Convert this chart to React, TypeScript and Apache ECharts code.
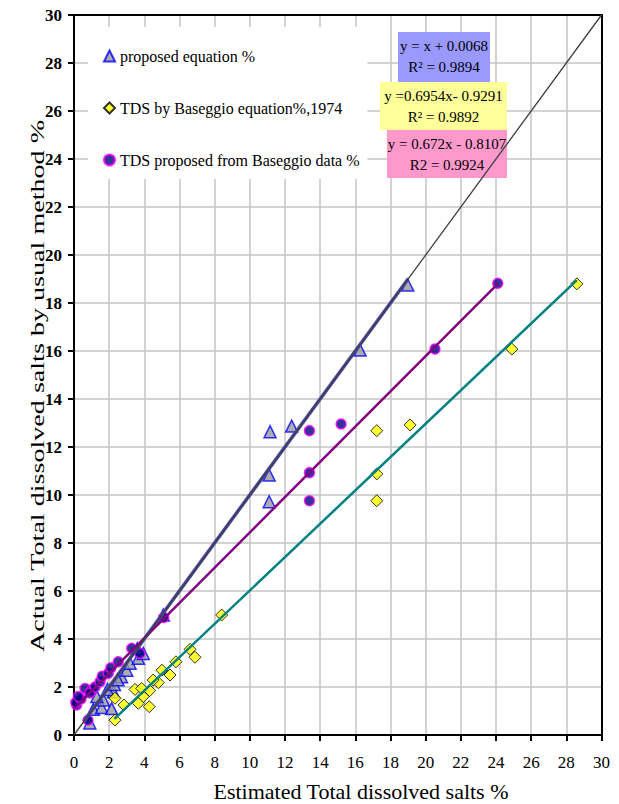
import React, { useEffect, useRef } from "react";
import * as echarts from "echarts";

const FONT = "Liberation Serif";

// tick labels / axis
const axisMin = 0;
const axisMax = 30;
const axisStep = 2;

// series names
const seriesNames = [
  "proposed equation %",
  "TDS by Baseggio equation%,1974",
  "TDS proposed from Baseggio data %",
];

// proposed equation (triangles)
const proposedX = [0.9, 1.1, 1.57, 2.14, 1.67, 1.3, 2.24, 1.9, 2.3, 2.7, 2.5, 3.0, 3.19, 3.66, 3.94, 3.6, 5.08, 11.1, 11.1, 11.15, 12.38, 16.27, 18.98];
const proposedY = [0.5, 1.07, 1.15, 1.1, 1.46, 1.6, 1.8, 1.9, 2.1, 2.43, 2.3, 2.7, 2.99, 3.2, 3.4, 3.6, 5.0, 9.72, 10.83, 12.64, 12.87, 16.04, 18.75];

// TDS by Baseggio equation 1974 (diamonds)
const baseggioX = [2.33, 4.28, 2.84, 3.66, 2.33, 3.94, 4.3, 3.47, 3.85, 4.8, 4.5, 5.46, 5.0, 5.8, 6.88, 6.6, 8.4, 17.22, 17.22, 17.22, 19.11, 24.9, 28.6];
const baseggioY = [0.62, 1.18, 1.25, 1.32, 1.53, 1.6, 1.85, 1.9, 1.94, 2.18, 2.29, 2.5, 2.7, 3.05, 3.24, 3.57, 5.0, 9.76, 10.88, 12.68, 12.92, 16.08, 18.8];

// TDS proposed from Baseggio data (circles)
const fromDataX = [0.8, 0.15, 0.1, 0.4, 0.25, 0.63, 1.0, 0.9, 1.2, 1.48, 1.6, 1.95, 2.1, 2.52, 3.28, 3.75, 5.1, 13.39, 13.39, 13.39, 15.19, 20.53, 24.1];
const fromDataY = [0.62, 1.25, 1.35, 1.5, 1.6, 1.94, 1.87, 1.75, 2.0, 2.22, 2.45, 2.57, 2.8, 3.05, 3.61, 3.4, 4.9, 9.76, 10.93, 12.68, 12.96, 16.08, 18.82];

// trend lines (end points)
const diagonalX = [0, 30];
const diagonalY = [0, 30];
const proposedTrendX = [0.55, 19.0];
const proposedTrendY = [0.56, 19.0];
const fromDataTrendX = [0, 24.1];
const fromDataTrendY = [1.1, 18.8];
const baseggioTrendX = [2.3, 28.6];
const baseggioTrendY = [0.67, 18.95];

// equation boxes
const equationLines = [
  ["y = x + 0.0068", "R\u00B2 = 0.9894"],
  ["y =0.6954x- 0.9291", "R\u00B2 = 0.9892"],
  ["y = 0.672x - 0.8107", "R2 = 0.9924"],
];
const equationColors = ["#9999ff", "#ffff99", "#ff99cc"];

const zip = (xs: number[], ys: number[]) => xs.map((x, i) => [x, ys[i]]);

export default function App() {
  const ref = useRef<HTMLDivElement>(null);

  useEffect(() => {
    document.body.style.margin = "0";
    const chart = echarts.init(ref.current!, null, { renderer: "svg" });

    const boxes = [
      { x: 398, y: 32, w: 92, h: 50 },
      { x: 380, y: 82, w: 127, h: 48 },
      { x: 387, y: 130, w: 120, h: 48 },
    ];
    const graphics: any[] = [];
    boxes.forEach((b, i) => {
      graphics.push({
        type: "rect",
        z: 1,
        shape: { x: b.x, y: b.y, width: b.w, height: b.h },
        style: { fill: equationColors[i] },
      });
      equationLines[i].forEach((t, j) => {
        graphics.push({
          type: "text",
          z: 1.5,
          x: b.x + b.w / 2,
          y: b.y + 14 + j * 21,
          style: {
            text: t,
            font: `15px ${FONT}`,
            fill: "#000",
            textAlign: "center",
            textVerticalAlign: "middle",
          },
        });
      });
    });
    graphics.push({
      type: "text",
      x: 361,
      y: 791,
      style: {
        text: "Estimated Total dissolved salts %",
        font: `22px ${FONT}`,
        fill: "#000",
        textAlign: "center",
        textVerticalAlign: "middle",
      },
    });
    graphics.push({
      type: "text",
      x: 38,
      y: 386,
      rotation: Math.PI / 2,
      scaleX: 1.48,
      style: {
        text: "Actual Total dissolved salts by usual method %",
        font: `19px ${FONT}`,
        fill: "#000",
        textAlign: "center",
        textVerticalAlign: "middle",
      },
    });

    const mainAxis = (isX: boolean) => ({
      type: "value",
      min: axisMin,
      max: axisMax,
      interval: axisStep,
      axisLine: { show: true, onZero: false, lineStyle: { color: "#000", width: 2 } },
      axisTick: { show: true, length: 6, lineStyle: { color: "#000", width: 2 } },
      axisLabel: {
        color: "#000",
        fontFamily: FONT,
        fontSize: 17,
        fontWeight: isX ? "normal" : "bold",
        margin: isX ? 19 : 12,
      },
      splitLine: {
        show: true,
        showMinLine: false,
        showMaxLine: false,
        lineStyle: { color: "#c4c4c4", width: 1.5 },
      },
    });
    const frameAxis = {
      type: "value",
      min: axisMin,
      max: axisMax,
      interval: axisStep,
      axisLine: { show: true, onZero: false, lineStyle: { color: "#000", width: 2 } },
      axisTick: { show: false },
      axisLabel: { show: false },
      splitLine: { show: false },
    };

    const lineSeries = (xs: number[], ys: number[], color: string, width: number, z: number) => ({
      type: "line",
      data: zip(xs, ys),
      showSymbol: false,
      symbol: "none",
      silent: true,
      z,
      lineStyle: { color, width },
    });

    chart.setOption({
      animation: false,
      backgroundColor: "#fff",
      grid: { left: 74, right: 17.5, top: 15, bottom: 69 },
      xAxis: [
        { ...mainAxis(true), position: "bottom" },
        { ...frameAxis, position: "top" },
      ],
      yAxis: [
        { ...mainAxis(false), position: "left" },
        { ...frameAxis, position: "right" },
      ],
      legend: {
        data: seriesNames,
        orient: "vertical",
        left: 88,
        top: 27,
        itemWidth: 11,
        itemHeight: 11,
        itemGap: 36,
        padding: [21, 8, 11, 15],
        backgroundColor: "#fff",
        textStyle: { color: "#000", fontFamily: FONT, fontSize: 16 },
      },
      graphic: graphics,
      series: [
        {
          name: seriesNames[0],
          type: "scatter",
          data: zip(proposedX, proposedY),
          symbol: "triangle",
          symbolSize: 12,
          z: 2,
          itemStyle: { color: "#999999", borderColor: "#0000ff", borderWidth: 1.5 },
        },
        {
          name: seriesNames[1],
          type: "scatter",
          data: zip(baseggioX, baseggioY),
          symbol: "diamond",
          symbolSize: 12,
          z: 2,
          itemStyle: { color: "#ffff00", borderColor: "#000", borderWidth: 1 },
        },
        {
          name: seriesNames[2],
          type: "scatter",
          data: zip(fromDataX, fromDataY),
          symbol: "circle",
          symbolSize: 10,
          z: 2,
          itemStyle: { color: "#000080", borderColor: "#ff00ff", borderWidth: 1.5 },
        },
        lineSeries(proposedTrendX, proposedTrendY, "#4848a8", 3.5, 3),
        lineSeries(fromDataTrendX, fromDataTrendY, "#800080", 2.5, 3),
        lineSeries(baseggioTrendX, baseggioTrendY, "#008080", 2.5, 3),
        lineSeries(diagonalX, diagonalY, "#404040", 1.3, 4),
      ],
    });

    return () => chart.dispose();
  }, []);

  return <div ref={ref} style={{ width: 619, height: 804, overflow: "hidden" }} />;
}
